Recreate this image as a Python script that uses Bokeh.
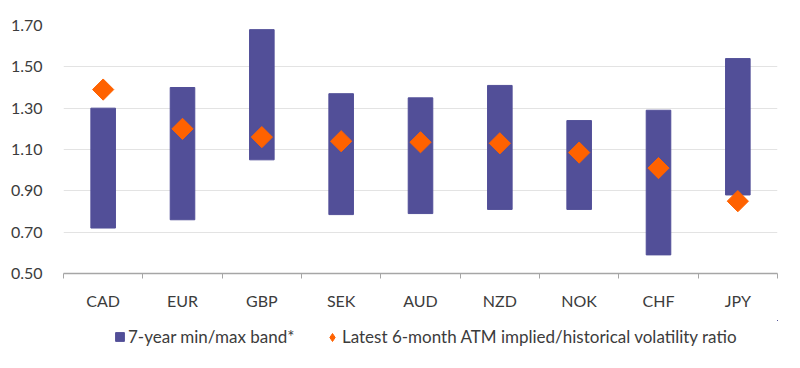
import numpy as np
from bokeh.plotting import figure
from bokeh.layouts import column
from bokeh.models import (ColumnDataSource, FixedTicker, Legend, LegendItem, Range1d,
                          NumeralTickFormatter)
from bokeh.embed import file_html
from bokeh.resources import INLINE

currencies = ["CAD", "EUR", "GBP", "SEK", "AUD", "NZD", "NOK", "CHF", "JPY"]
band_min = [0.72, 0.76, 1.05, 0.785, 0.79, 0.81, 0.81, 0.59, 0.88]
band_max = [1.30, 1.40, 1.68, 1.37, 1.35, 1.41, 1.24, 1.29, 1.54]
latest_ratio = [1.39, 1.20, 1.16, 1.14, 1.135, 1.13, 1.085, 1.01, 0.85]
y_ticks = [0.50, 0.70, 0.90, 1.10, 1.30, 1.50, 1.70]
band_label = "7-year min/max band*"
ratio_label = "Latest 6-month ATM implied/historical volatility ratio"

FONT = "Lato"
TXT = "#3c3c3c"
PURPLE = "#524f98"
ORANGE = "#ff6200"

x = np.arange(len(currencies)) + 0.5
src = ColumnDataSource(dict(x=x, lo=band_min, hi=band_max, r=latest_ratio, cat=currencies))

p = figure(width=800, height=320, output_backend="svg", toolbar_location=None,
           x_range=Range1d(0, len(currencies)), y_range=Range1d(0.5, 1.7),
           min_border_left=63, min_border_right=23, min_border_top=25, min_border_bottom=47)
p.outline_line_color = None

p.vbar(x="x", bottom="lo", top="hi", width=0.31, source=src,
       fill_color=PURPLE, line_color=PURPLE)
p.scatter(x="x", y="r", source=src, marker="square", angle=np.pi / 4,
          size=15, fill_color=ORANGE, line_color=ORANGE)

# x axis
xa = p.xaxis[0]
xa.ticker = FixedTicker(ticks=list(x), minor_ticks=list(range(len(currencies) + 1)))
xa.major_label_overrides = {float(v): c for v, c in zip(x, currencies)}
xa.major_tick_line_color = None
xa.minor_tick_line_color = "#a6a6a6"
xa.minor_tick_out = 5
xa.minor_tick_in = 0
xa.axis_line_color = "#a6a6a6"
xa.axis_line_width = 1.5
xa.major_label_text_font = FONT
xa.major_label_text_font_size = "16px"
xa.major_label_text_color = TXT
xa.major_label_standoff = 11

# y axis
ya = p.yaxis[0]
ya.ticker = FixedTicker(ticks=y_ticks)
ya.formatter = NumeralTickFormatter(format="0.00")
ya.axis_line_color = None
ya.major_tick_line_color = None
ya.minor_tick_line_color = None
ya.major_label_text_font = FONT
ya.major_label_text_font_size = "16px"
ya.major_label_text_color = TXT
ya.major_label_standoff = 15

p.xgrid.grid_line_color = None
p.ygrid.ticker = FixedTicker(ticks=y_ticks[1:])
p.ygrid.grid_line_color = "#e3e3e3"
p.ygrid.grid_line_width = 1

# legend strip (its renderers share the data but lie outside this strip's ranges)
lg = figure(width=800, height=48, output_backend="svg", toolbar_location=None,
            x_axis_location=None, y_axis_location=None,
            x_range=Range1d(-3, -2), y_range=Range1d(-3, -2), min_border=0)
lg.outline_line_color = None
lg.grid.visible = False
r_band = lg.vbar(x="x", bottom="lo", top="hi", width=0.31, source=src,
                 fill_color=PURPLE, line_color=PURPLE)
r_pt = lg.scatter(x="x", y="r", source=src, marker="diamond",
                  fill_color=ORANGE, line_color=ORANGE)

common = dict(orientation="horizontal", label_text_font=FONT, label_text_font_size="17px",
              label_text_color=TXT, border_line_color=None, background_fill_alpha=0,
              padding=0, margin=0)
leg_a = Legend(items=[LegendItem(label=band_label, renderers=[r_band], index=0)],
               location=(51, 21), glyph_width=11, glyph_height=11, label_standoff=3, **common)
leg_b = Legend(items=[LegendItem(label=ratio_label, renderers=[r_pt], index=0)],
               location=(259, 21), glyph_width=20, glyph_height=20, label_standoff=0, **common)
lg.add_layout(leg_a, "center")
lg.add_layout(leg_b, "center")

open("out.html", "w").write(file_html(column(p, lg), INLINE))
